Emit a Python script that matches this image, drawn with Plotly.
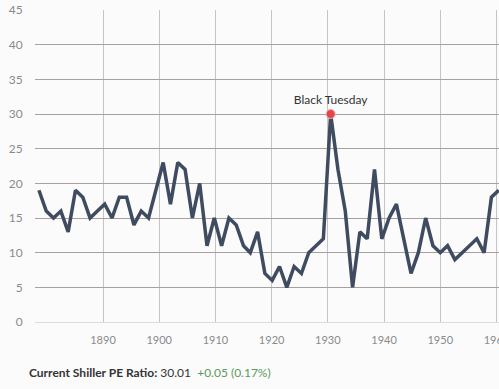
import plotly.graph_objects as go

years = [1878.6, 1879.9, 1881.2, 1882.5, 1883.8, 1885.1, 1886.4, 1887.7, 1889.0, 1890.3,
         1891.6, 1892.9, 1894.2, 1895.5, 1896.8, 1898.1, 1899.4, 1900.7, 1902.0, 1903.3,
         1904.6, 1905.9, 1907.2, 1908.5, 1909.8, 1911.1, 1912.4, 1913.7, 1915.0, 1916.2,
         1917.5, 1918.8, 1920.1, 1921.4, 1922.7, 1924.0, 1925.3, 1926.6, 1927.9, 1929.2,
         1930.5, 1931.8, 1933.1, 1934.4, 1935.7, 1937.0, 1938.3, 1939.6, 1940.9, 1942.2,
         1943.5, 1944.8, 1946.1, 1947.4, 1948.7, 1950.0, 1951.3, 1952.6, 1953.9, 1955.2,
         1956.5, 1957.8, 1959.1, 1960.4]
pe = [19, 16, 15, 16, 13, 19, 18, 15, 16, 17,
      15, 18, 18, 14, 16, 15, 19, 23, 17, 23,
      22, 15, 20, 11, 15, 11, 15, 14, 11, 10,
      13, 7, 6, 8, 5, 8, 7, 10, 11, 12,
      30, 22, 16, 5, 13, 12, 22, 12, 15, 17,
      12, 7, 10, 15, 11, 10, 11, 9, 10, 11,
      12, 10, 18, 19]
event_year = [1930.5]
event_value = [30]
event_label = ["Black Tuesday"]
x_ticks = [1890, 1900, 1910, 1920, 1930, 1940, 1950, 1960]
y_ticks = [0, 5, 10, 15, 20, 25, 30, 35, 40, 45]

fig = go.Figure()
fig.add_trace(go.Scatter(
    x=years, y=pe, mode="lines",
    line=dict(color="#3e4b60", width=3.5),
    hoverinfo="skip", showlegend=False))
fig.add_trace(go.Scatter(
    x=event_year, y=event_value, mode="markers+text",
    marker=dict(color="#e0464e", size=9, line=dict(color="#f3b0b0", width=1)),
    text=event_label, textposition="top center",
    textfont=dict(family="Lato", size=12, color="#333333"),
    showlegend=False))

fig.add_annotation(
    x=(27 - 35) / (499 - 35), y=(322 - 372) / (322 - 10),
    xref="paper", yref="paper", xanchor="left", yanchor="middle",
    showarrow=False,
    text="<b>Current Shiller PE Ratio:</b> 30.01 <span style='color:#5a9a5a'>&nbsp;+0.05 (0.17%)</span>",
    font=dict(family="Lato", size=12, color="#333333"))

fig.update_layout(
    width=499, height=389,
    margin=dict(l=35, r=0, t=10, b=67, autoexpand=False),
    paper_bgcolor="#fbfbfc", plot_bgcolor="#fbfbfc",
    font=dict(family="Lato", size=11, color="#8a8a8a"),
    xaxis=dict(range=[1877.9, 1960.45], tickvals=x_ticks, showgrid=True,
               gridcolor="#c4c4c4", gridwidth=1, zeroline=False, showline=False,
               ticks="outside", ticklen=8, tickcolor="rgba(0,0,0,0)",
               automargin=False, ticklabeloverflow="allow",
               tickfont=dict(size=11, color="#8a8a8a")),
    yaxis=dict(range=[0, 45], tickvals=y_ticks, showgrid=True,
               gridcolor="#a8a0a0", gridwidth=1, zeroline=True,
               zerolinecolor="#dcdcdc", zerolinewidth=1, showline=False,
               ticks="outside", ticklen=9, tickcolor="rgba(0,0,0,0)",
               automargin=False,
               tickfont=dict(size=12, color="#8a8a8a")),
)

fig.write_html("out.html", config={"displayModeBar": False},
               post_script="document.body.style.margin='0';document.body.style.overflow='hidden';")
